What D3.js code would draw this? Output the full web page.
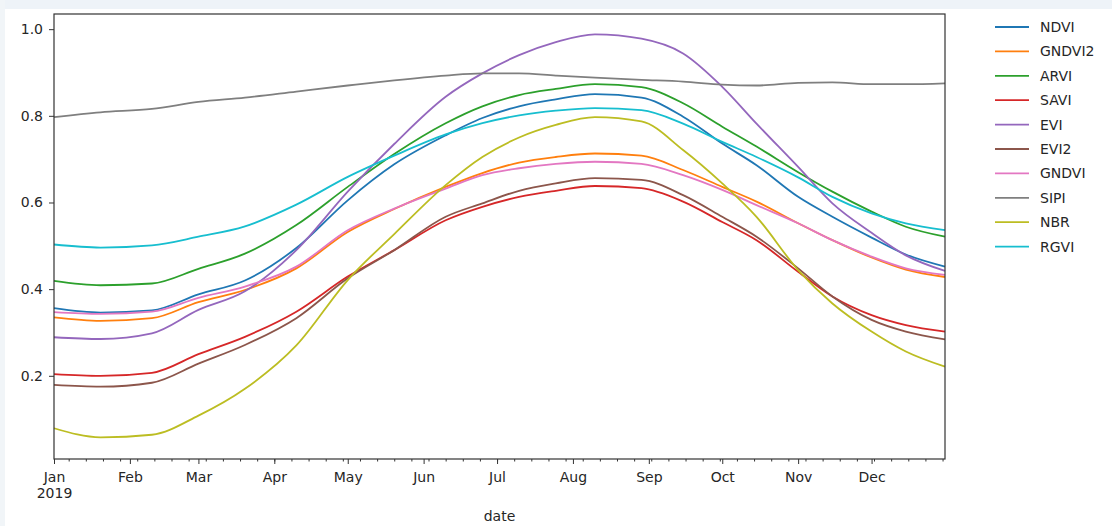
<!DOCTYPE html>
<html>
<head>
<meta charset="utf-8">
<script src="https://cdn.jsdelivr.net/npm/d3@7"></script>
<style>
  body { margin: 0; background: #fff; }
  svg { display: block; font-family: "DejaVu Sans", sans-serif; }
</style>
</head>
<body>
<svg id="chart" width="1112" height="526"></svg>
<script>
// Sample dates and index values
const dates = ["2019-01-01","2019-01-20","2019-02-10","2019-03-01","2019-03-20","2019-04-10",
  "2019-05-01","2019-05-20","2019-06-10","2019-06-25","2019-07-10","2019-07-25","2019-08-10",
  "2019-08-29","2019-09-15","2019-10-01","2019-10-15","2019-11-01","2019-11-15","2019-12-01",
  "2019-12-15","2019-12-31"];

const seriesNames = ["NDVI", "GNDVI2", "ARVI", "SAVI", "EVI", "EVI2", "GNDVI", "SIPI", "NBR", "RGVI"];

const ndvi   = [0.356,0.346,0.351,0.388,0.420,0.495,0.605,0.688,0.755,0.795,0.822,0.838,0.850,0.842,0.798,0.736,0.686,0.613,0.567,0.519,0.480,0.452];
const gndvi2 = [0.335,0.327,0.333,0.370,0.398,0.448,0.532,0.585,0.636,0.668,0.692,0.705,0.713,0.708,0.675,0.636,0.602,0.552,0.513,0.473,0.445,0.428];
const arvi   = [0.419,0.409,0.413,0.447,0.482,0.548,0.636,0.712,0.783,0.822,0.848,0.862,0.873,0.866,0.829,0.775,0.729,0.670,0.625,0.579,0.544,0.521];
const savi   = [0.204,0.200,0.207,0.250,0.290,0.348,0.429,0.490,0.559,0.590,0.613,0.627,0.638,0.633,0.602,0.555,0.513,0.440,0.383,0.340,0.317,0.302];
const evi    = [0.289,0.285,0.298,0.352,0.395,0.490,0.625,0.735,0.844,0.898,0.940,0.970,0.988,0.978,0.944,0.867,0.782,0.682,0.598,0.530,0.478,0.442];
const evi2   = [0.179,0.175,0.184,0.228,0.271,0.333,0.425,0.490,0.567,0.598,0.627,0.644,0.656,0.652,0.617,0.567,0.521,0.448,0.383,0.329,0.302,0.284];
const gndvi  = [0.347,0.343,0.348,0.380,0.406,0.452,0.536,0.586,0.632,0.663,0.679,0.689,0.694,0.689,0.663,0.629,0.594,0.552,0.513,0.475,0.448,0.433];
const sipi   = [0.797,0.808,0.816,0.832,0.842,0.856,0.870,0.882,0.893,0.898,0.898,0.893,0.888,0.883,0.879,0.872,0.870,0.876,0.877,0.873,0.873,0.875];
const nbr    = [0.079,0.058,0.064,0.108,0.170,0.270,0.421,0.527,0.640,0.705,0.750,0.779,0.797,0.787,0.721,0.644,0.567,0.444,0.367,0.302,0.256,0.221];
const rgvi   = [0.503,0.496,0.501,0.521,0.545,0.595,0.659,0.708,0.757,0.783,0.801,0.812,0.818,0.813,0.782,0.740,0.705,0.658,0.613,0.575,0.552,0.536];

const yTicks = [0.2, 0.4, 0.6, 0.8, 1.0];
const monthLabels = ["Jan","Feb","Mar","Apr","May","Jun","Jul","Aug","Sep","Oct","Nov","Dec"];

const allValues = [ndvi, gndvi2, arvi, savi, evi, evi2, gndvi, sipi, nbr, rgvi];
const colors = ["#1f77b4","#ff7f0e","#2ca02c","#d62728","#9467bd","#8c564b","#e377c2","#7f7f7f","#bcbd22","#17becf"];

const parseDate = d3.timeParse("%Y-%m-%d");
const dateObjs = dates.map(parseDate);

const series = seriesNames.map((name, i) => ({
    name: name,
    color: colors[i],
    values: dateObjs.map((d, j) => ({ date: d, value: allValues[i][j] }))
}));

const svg = d3.select("#chart");

// light strips at the screenshot edges
svg.append("rect").attr("x", 0).attr("y", 0).attr("width", 1112).attr("height", 9).attr("fill", "#eef3f8");
svg.append("rect").attr("x", 0).attr("y", 0).attr("width", 5).attr("height", 526).attr("fill", "#f1f5f8");

const margin = { left: 54, right: 945, top: 14, bottom: 459 };

const x = d3.scaleTime()
    .domain([parseDate("2019-01-01"), parseDate("2019-12-31")])
    .range([margin.left, margin.right]);

const y = d3.scaleLinear()
    .domain([0.008, 1.035])
    .range([margin.bottom, margin.top]);

// Lines
const line = d3.line()
    .x(d => x(d.date))
    .y(d => y(d.value))
    .curve(d3.curveMonotoneX);

svg.append("g")
    .selectAll("path")
    .data(series)
    .enter().append("path")
    .attr("d", d => line(d.values))
    .attr("fill", "none")
    .attr("stroke", d => d.color)
    .attr("stroke-width", 1.8);

// Frame
svg.append("rect")
    .attr("x", margin.left)
    .attr("y", margin.top)
    .attr("width", margin.right - margin.left)
    .attr("height", margin.bottom - margin.top)
    .attr("fill", "none")
    .attr("stroke", "#333")
    .attr("stroke-width", 1.2);

// Minor x ticks (weekly)
const minorAxis = svg.append("g")
    .attr("transform", "translate(0," + margin.bottom + ")")
    .call(d3.axisBottom(x)
        .tickValues(d3.timeMonday.range(parseDate("2019-01-01"), parseDate("2019-12-31")))
        .tickSize(2.5)
        .tickFormat(""));
minorAxis.select(".domain").remove();
minorAxis.selectAll("line").attr("stroke", "#333");

// Major x ticks (months)
const monthTicks = d3.timeMonth.range(parseDate("2019-01-01"), parseDate("2019-12-31"));
const xAxis = svg.append("g")
    .attr("transform", "translate(0," + margin.bottom + ")")
    .call(d3.axisBottom(x)
        .tickValues(monthTicks)
        .tickSize(5)
        .tickPadding(8)
        .tickFormat(d => monthLabels[d.getMonth()]));
xAxis.select(".domain").remove();
xAxis.selectAll("line").attr("stroke", "#333");
xAxis.selectAll("text")
    .attr("font-size", 14)
    .attr("font-family", "DejaVu Sans, sans-serif")
    .attr("fill", "#262626");
xAxis.selectAll(".tick").filter(d => d.getMonth() === 0).select("text")
    .append("tspan")
    .attr("x", 0)
    .attr("dy", "1.15em")
    .text("2019");

// Y axis
const yAxis = svg.append("g")
    .attr("transform", "translate(" + margin.left + ",0)")
    .call(d3.axisLeft(y)
        .tickValues(yTicks)
        .tickSize(5)
        .tickPadding(6)
        .tickFormat(d3.format(".1f")));
yAxis.select(".domain").remove();
yAxis.selectAll("line").attr("stroke", "#333");
yAxis.selectAll("text")
    .attr("font-size", 14)
    .attr("font-family", "DejaVu Sans, sans-serif")
    .attr("fill", "#262626");

// Axis label
svg.append("text")
    .attr("x", (margin.left + margin.right) / 2)
    .attr("y", 521)
    .attr("text-anchor", "middle")
    .attr("font-size", 14)
    .attr("fill", "#262626")
    .text("date");

// Legend
const legend = svg.append("g")
    .selectAll("g")
    .data(series)
    .enter().append("g")
    .attr("transform", (d, i) => "translate(995," + (27 + i * 24.4) + ")");

legend.append("line")
    .attr("x1", 0).attr("x2", 34)
    .attr("stroke", d => d.color)
    .attr("stroke-width", 1.8);

legend.append("text")
    .attr("x", 45)
    .attr("dy", "0.35em")
    .attr("font-size", 14)
    .attr("fill", "#262626")
    .text(d => d.name);
</script>
</body>
</html>
